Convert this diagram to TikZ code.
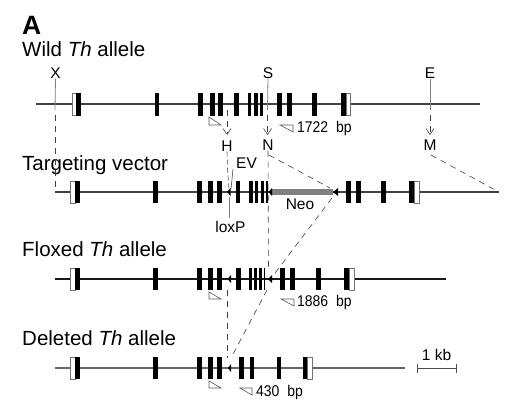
\documentclass[tikz,border=0pt]{standalone}
\usepackage{fontspec}
\setmainfont{Liberation Sans}
\newfontfamily\sizefont[FakeStretch=0.9]{Liberation Sans}
\usetikzlibrary{arrows.meta}
\tikzset{
  genome/.style={draw=black!75,line width=#1},
  genome/.default=1pt,
  title/.style={anchor=base west,inner sep=0,font=\fontsize{20.5}{22}\selectfont},
  lab/.style={inner sep=0,font=\fontsize{15.5}{17}\selectfont},
  size lab/.style={anchor=base west,inner sep=0,font=\fontsize{15.5}{17}\sizefont},
  dash line/.style={draw=black!75,line width=0.6pt,dash pattern=on 6pt off 5pt},
  site line/.style={draw=black!50,line width=0.8pt},
  open tip/.style={-{Straight Barb[length=6pt,width=8pt,line width=0.6pt]}},
  primer/.style={draw=black!65,line width=0.6pt,fill=white},
}
% exons: list of left/right pairs at centre y, half height #2
\newcommand{\exons}[3]{\foreach \a/\b in {#3}{\fill[black] (\a,#1-#2) rectangle (\b,#1+#2);}}
\newcommand{\utr}[4]{\filldraw[draw=black!55,fill=white,line width=0.7pt] (#2,#1-11) rectangle (#3,#1+11);}
\newcommand{\lox}[3]{\fill[black] (#2,#1) -- (#3,#1-4) -- (#3,#1+4) -- cycle;}
\begin{document}
\begin{tikzpicture}[x=1pt,y=-1pt]
\useasboundingbox (0,0) rectangle (508,405);
\fill[white] (0,0) rectangle (508,405);
% titles
\node[anchor=base west,inner sep=0,font=\fontsize{26.5}{28}\selectfont\bfseries] (pA) at (22,34) {A};
\node[title] (tw) at (22,56.5) {Wild \textit{Th} allele};
\node[title] (tt) at (22,170) {Targeting vector};
\node[title] (tf) at (22,256.5) {Floxed \textit{Th} allele};
\node[title] (td) at (22,345.5) {Deleted \textit{Th} allele};
% site labels
\node[lab] (X) at (55.5,73) {X};
\node[lab] (S) at (268,73) {S};
\node[lab] (E) at (430,73) {E};
\node[lab] (H) at (227,146) {H};
\node[lab] (N) at (268,145) {N};
\node[lab] (M) at (430,145) {M};
\node[lab] (EV) at (246.5,163) {EV};
\node[lab] (loxP) at (230.5,227) {loxP};
\node[lab] (Neo) at (300,204) {Neo};
% anchor coordinates
\coordinate (w1) at (36,104); \coordinate (w2) at (480,104);
\coordinate (t1) at (55,192); \coordinate (t2) at (499,192);
\coordinate (f1) at (55,279); \coordinate (f2) at (446,279);
\coordinate (d1) at (55,368); \coordinate (d2) at (405,368);
% backbones
\draw[genome=2pt] (w1) -- (w2);
\draw[genome=1.1pt] (t1) -- (t2);
\draw[genome=1.1pt,draw=black!90] (f1) -- (f2);
\draw[genome=1.2pt,draw=black!60] (d1) -- (d2);
% neo
\coordinate (n1) at (272,192); \coordinate (n2) at (333,192);
\draw[draw=black!50,line width=5.5pt] (n1) -- (n2);
% wild
\utr{104}{72}{77}{}
\utr{104}{346}{350}{}
\exons{104}{11.5}{76/81,155/159,198/203,209.5/215,218/223,234/239,248/251,254/258,260/263,277/282,287/292,312/317,341/346}
% targeting
\utr{192}{70.5}{75.5}{}
\utr{192}{414}{419}{}
\exons{192}{11}{75/80,153/158,197/202,208/213,217/222,236/240,248.5/253,255/258,261/264,265.5/268,346/351,356/361,381/386,409/414}
\lox{192}{227}{230.5}
\lox{192}{268.5}{272}
\lox{192}{333}{338}
% floxed
\utr{279}{70.5}{75.5}{}
\utr{279}{349}{354}{}
\exons{279}{11}{75/80,153/158,197/202,208/213,217/222,236/241,249/252,254/257,259/262,263.5/265,280/285,290/295,316/321,344/349}
\lox{279}{227.5}{231}
\lox{279}{268}{272}
% deleted
\utr{368}{70.5}{75.5}{}
\utr{368}{307}{312}{}
\exons{368}{11}{75/80,153/158,197/202,208/213,217/222,239/244,250/254,277/281,303/307}
\lox{368}{228}{231}
% restriction sites: solid part
\coordinate (Xd) at (55,110);
\coordinate (Sd) at (267.5,110);
\coordinate (Ed) at (430,110);
\draw[site line] (X.south) -- (Xd);
\draw[site line] (S.south) -- (Sd);
\draw[site line] (E.south) -- (Ed);
% dashed guides
\coordinate (Hu) at (227,110); \coordinate (Hd) at (227,135);
\coordinate (Sb) at (267.5,135); \coordinate (Eb) at (430,135);
\draw[dash line,open tip] (Sd) ++(0,5) -- (Sb);
\draw[dash line,open tip] (Ed) ++(0,5) -- (Eb);
\draw[dash line,open tip] (Hu) -- (Hd);
\draw[dash line] (Xd) ++(0,5) -- (t1);
\coordinate (Hk) at (227.5,168); \coordinate (lt) at (229,190);
\draw[draw=black!70,line width=0.6pt,dash pattern=on 5pt off 3pt] (H.south) -- (Hk) -- (lt);
\coordinate (EVa) at (233,169); \coordinate (EVb) at (231,189);
\draw[draw=black!70,line width=0.6pt] (EVa) -- (EVb);
\coordinate (lb) at (229,197); \coordinate (lc) at (229,218);
\draw[site line] (lb) -- (lc);
\coordinate (Nd) at (268.5,268);
\draw[dash line] (N.south) -- (Nd);
\coordinate (Nr) at (269,155); \coordinate (Nn) at (330,188);
\draw[dash line] (Nr) -- (Nn);
\coordinate (Mr) at (431,155);
\draw[dash line] (Mr) -- (t2);
\coordinate (nr) at (332,198); \coordinate (fr) at (272,277);
\draw[dash line] (nr) -- (fr);
\coordinate (fs) at (267,290); \coordinate (ds) at (231,358);
\draw[dash line] (fs) -- (ds);
\coordinate (fl) at (227.5,290); \coordinate (dl) at (227.5,358);
\draw[dash line] (fl) -- (dl);
% primers
\draw[primer] (209,117) -- (209,125) -- (221,125) -- cycle;
\draw[primer] (280,125) -- (293,125) -- (293,132) -- cycle;
\draw[primer] (209,292) -- (209,299) -- (221,299) -- cycle;
\draw[primer] (281,299) -- (294,299) -- (294,306) -- cycle;
\draw[primer] (209,381) -- (209,388) -- (221,388) -- cycle;
\draw[primer] (240,388) -- (252,388) -- (252,395) -- cycle;
\node[size lab] (b1) at (297,132.5) {1722\hspace{4pt} bp};
\node[size lab] (b2) at (297,306.5) {1886\hspace{4pt} bp};
\node[size lab] (b3) at (256,396) {430\hspace{4pt} bp};
% scale bar
\node[lab] (kb) at (436.5,355) {1 kb};
\coordinate (s1) at (417,368); \coordinate (s2) at (457,368);
\draw[draw=black!70,line width=0.7pt,{Bar[width=9pt]}-{Bar[width=9pt]}] (s1) -- (s2);
\end{tikzpicture}
\end{document}
